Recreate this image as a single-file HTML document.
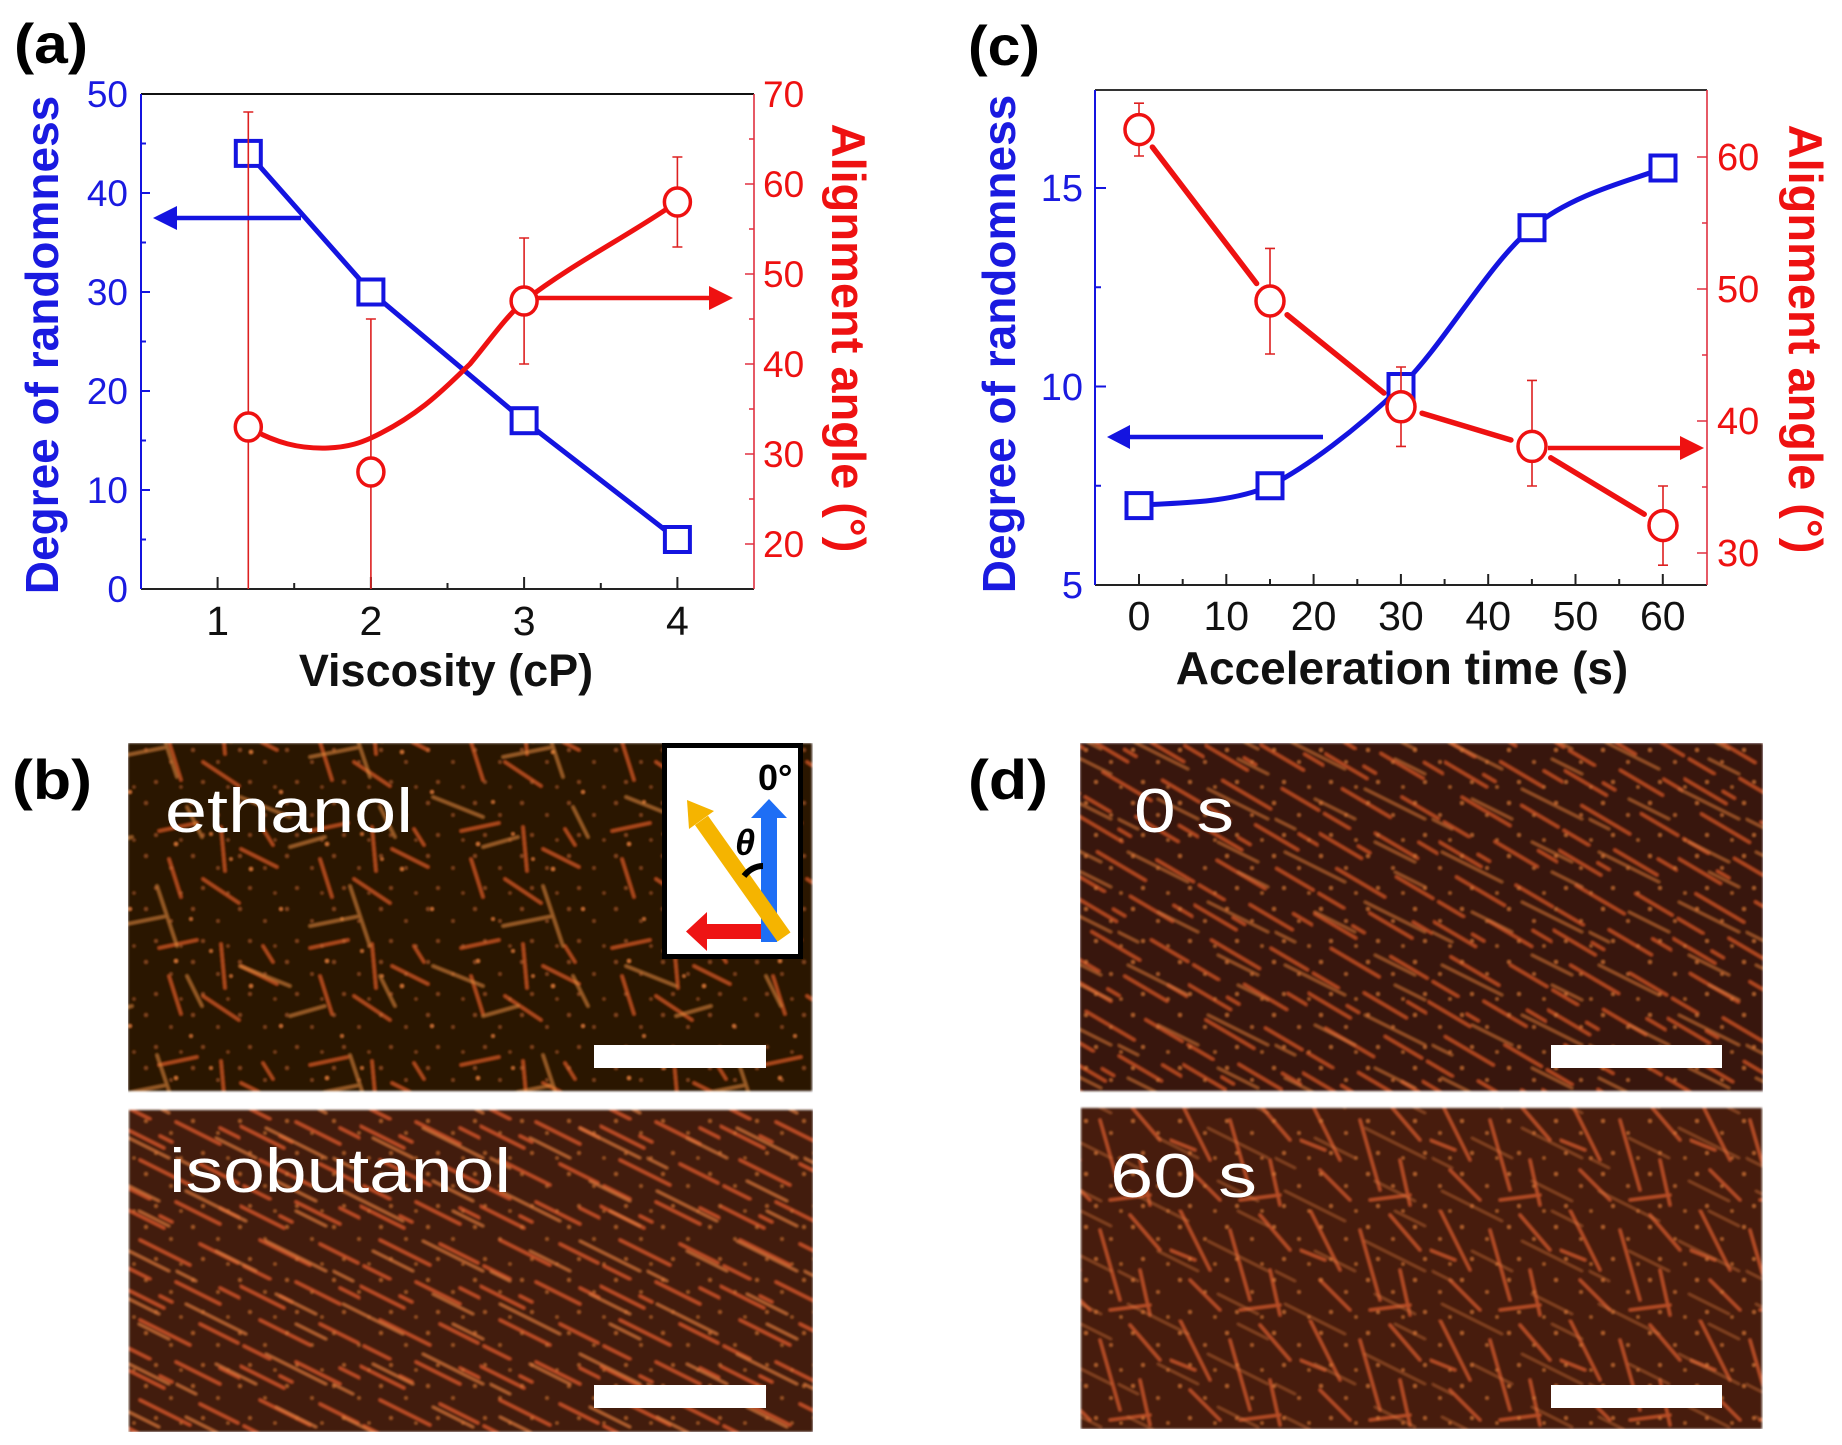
<!DOCTYPE html>
<html><head><meta charset="utf-8"><style>
html,body{margin:0;padding:0;background:#fff;}
svg{display:block;}
text{font-family:"Liberation Sans",Arial,sans-serif;}
</style></head><body>
<svg width="1842" height="1445" viewBox="0 0 1842 1445" xmlns="http://www.w3.org/2000/svg">
<defs>
<filter id="soft" x="0" y="0" width="1" height="1"><feGaussianBlur stdDeviation="1"/></filter>
<pattern id="eth1" width="151" height="117" patternUnits="userSpaceOnUse">
<path d="M8 12L46 4M70 8L74 52M18 40L30 78M90 30L126 48M52 60L88 84M112 10L122 26" stroke="#d45a26" stroke-width="3" stroke-linecap="round" fill="none" opacity=".8"/>
<g fill="#e8803a"><circle cx="25" cy="25" r="1.6"/><circle cx="60" cy="15" r="1.4"/><circle cx="100" cy="50" r="1.6"/><circle cx="40" cy="100" r="1.4"/><circle cx="130" cy="90" r="1.5"/><circle cx="80" cy="40" r="1.3"/></g>
</pattern>
<pattern id="eth2" width="193" height="169" patternUnits="userSpaceOnUse" patternTransform="translate(37 21)">
<path d="M10 100L60 120M120 20L140 80M80 60L130 50M150 110L165 140M60 150L95 140" stroke="#e8903c" stroke-width="3" stroke-linecap="round" fill="none" opacity=".6"/>
</pattern>
<pattern id="iso1" width="120" height="80" patternUnits="userSpaceOnUse">
<path d="M0 6L44 28M56 2L100 24M20 40L70 65M80 44L118 63M4 66L30 79M100 8L120 18M40 16L52 22" stroke="#cc5228" stroke-width="3" stroke-linecap="round" fill="none" opacity=".9"/>
</pattern>
<pattern id="iso1b" width="120" height="80" patternUnits="userSpaceOnUse" patternTransform="translate(53 17) rotate(4)">
<path d="M0 6L44 28M56 2L100 24M20 40L70 65M80 44L118 63M4 66L30 79M100 8L120 18M40 16L52 22" stroke="#cc5228" stroke-width="3" stroke-linecap="round" fill="none" opacity=".85"/>
</pattern>
<pattern id="iso2" width="157" height="113" patternUnits="userSpaceOnUse" patternTransform="translate(19 41)">
<path d="M10 20L70 50M90 70L150 100M40 80L80 100M100 10L140 30M0 100L20 110M120 40L150 55" stroke="#e07a3e" stroke-width="2.5" stroke-linecap="round" fill="none" opacity=".75"/>
</pattern>
<pattern id="s60" width="130" height="110" patternUnits="userSpaceOnUse">
<path d="M10 0L40 60M60 20L80 90M90 5L120 40M20 70L50 100M100 60L110 105M0 40L25 50M70 100L110 95" stroke="#d45a2e" stroke-width="3" stroke-linecap="round" fill="none" opacity=".8"/>
</pattern>
<pattern id="dots" width="47" height="53" patternUnits="userSpaceOnUse">
<g fill="#e07a3a"><circle cx="5" cy="8" r="1.7"/><circle cx="30" cy="20" r="1.5"/><circle cx="15" cy="40" r="1.6"/><circle cx="40" cy="45" r="1.4"/></g>
</pattern>
</defs>

<rect width="1842" height="1445" fill="#fff"/>

<!-- ================= (a) ================= -->
<text x="14" y="63" font-size="56" font-weight="bold" textLength="74" lengthAdjust="spacingAndGlyphs">(a)</text>
<g stroke-width="2" fill="none">
<line x1="141" y1="94" x2="754" y2="94" stroke="#111"/>
<line x1="141" y1="589" x2="754" y2="589" stroke="#222"/>
<line x1="141" y1="94" x2="141" y2="589" stroke="#1414e0"/>
<line x1="754" y1="94" x2="754" y2="589" stroke="#e03040" stroke-width="1.6"/>
</g>
<g stroke="#222" stroke-width="2">
<path d="M217.6 589V577M370.9 589V577M524.1 589V577M677.4 589V577M294.2 589V583M447.5 589V583M600.8 589V583"/>
</g>
<g stroke="#1414e0" stroke-width="2">
<path d="M141 490H150M141 391H150M141 292H150M141 193H150M141 539.5H146M141 440.5H146M141 341.5H146M141 242.5H146M141 143.5H146"/>
</g>
<g stroke="#e03040" stroke-width="1.6">
<path d="M754 184H745M754 274H745M754 364H745M754 454H745M754 544H745M754 499H749M754 409H749M754 319H749M754 229H749M754 139H749"/>
</g>
<g font-size="37" fill="#1a1ae0" text-anchor="end">
<text x="128" y="602">0</text><text x="128" y="503">10</text><text x="128" y="404">20</text><text x="128" y="305">30</text><text x="128" y="206">40</text><text x="128" y="107">50</text>
</g>
<g font-size="37" fill="#ee1111">
<text x="763" y="107">70</text><text x="763" y="197">60</text><text x="763" y="287">50</text><text x="763" y="377">40</text><text x="763" y="467">30</text><text x="763" y="557">20</text>
</g>
<g font-size="41" fill="#111" text-anchor="middle">
<text x="217.6" y="635">1</text><text x="370.9" y="635">2</text><text x="524.1" y="635">3</text><text x="677.4" y="635">4</text>
</g>
<text x="446" y="686" font-size="45" font-weight="bold" text-anchor="middle" fill="#111">Viscosity (cP)</text>
<text transform="translate(58,345) rotate(-90)" font-size="46" font-weight="bold" text-anchor="middle" fill="#1a1ae0">Degree of randomness</text>
<text transform="translate(832,338) rotate(90)" font-size="47" font-weight="bold" text-anchor="middle" fill="#ee1111">Alignment angle (°)</text>

<!-- data a -->
<polyline points="248.3,153.4 370.9,292 524.1,420.7 677.4,539.5" fill="none" stroke="#1414e0" stroke-width="5"/>
<path d="M248,427 C275,443 300,449 328,448 C350,447 362,442 371,438 C420,415 445,388 470,364 C490,340 505,318 524,301 C575,262 630,235 677,202" fill="none" stroke="#ee1111" stroke-width="5"/>
<g fill="#fff" stroke="#1414e0" stroke-width="4">
<rect x="235.8" y="140.9" width="25" height="25"/><rect x="358.4" y="279.5" width="25" height="25"/><rect x="511.6" y="408.2" width="25" height="25"/><rect x="664.9" y="527" width="25" height="25"/>
</g>
<g stroke="#dd2020" stroke-width="1.6">
<path d="M248.3 112V589M243.3 112H253.3M370.9 319V589M365.9 319H375.9M524.1 238V364M519.1 238H529.1M519.1 364H529.1M677.4 157V247M672.4 157H682.4M672.4 247H682.4"/>
</g>
<g fill="#fff" stroke="#ee1111" stroke-width="3.5">
<ellipse cx="248.3" cy="427" rx="13" ry="14"/><ellipse cx="370.9" cy="472" rx="13" ry="14"/><ellipse cx="524.1" cy="301" rx="13" ry="14"/><ellipse cx="677.4" cy="202" rx="13" ry="14"/>
</g>
<line x1="301" y1="218" x2="172" y2="218" stroke="#1414e0" stroke-width="4.5"/>
<polygon points="153,218 177,206 177,230" fill="#1414e0"/>
<line x1="538" y1="298" x2="712" y2="298" stroke="#ee1111" stroke-width="4.5"/>
<polygon points="733,298 709,286 709,310" fill="#ee1111"/>

<!-- ================= (c) ================= -->
<text x="968" y="65" font-size="56" font-weight="bold" textLength="72" lengthAdjust="spacingAndGlyphs">(c)</text>
<g stroke-width="2" fill="none">
<line x1="1095" y1="90" x2="1707" y2="90" stroke="#333"/>
<line x1="1095" y1="585" x2="1707" y2="585" stroke="#222"/>
<line x1="1095" y1="90" x2="1095" y2="585" stroke="#1414e0"/>
<line x1="1707" y1="90" x2="1707" y2="585" stroke="#e03040" stroke-width="1.6"/>
</g>
<g stroke="#222" stroke-width="2">
<path d="M1139 585V574M1226.3 585V574M1313.6 585V574M1400.9 585V574M1488.2 585V574M1575.5 585V574M1662.8 585V574M1182.7 585V579M1270 585V579M1357.3 585V579M1444.6 585V579M1531.9 585V579M1619.2 585V579"/>
</g>
<g stroke="#1414e0" stroke-width="2">
<path d="M1095 386.5H1106M1095 188H1106M1095 485.8H1101M1095 287.3H1101"/>
</g>
<g stroke="#e03040" stroke-width="1.6">
<path d="M1707 553H1697M1707 421H1697M1707 289H1697M1707 157H1697M1707 487H1702M1707 355H1702M1707 223H1702"/>
</g>
<g font-size="38" fill="#1a1ae0" text-anchor="end">
<text x="1083" y="598">5</text><text x="1083" y="400">10</text><text x="1083" y="201">15</text>
</g>
<g font-size="38" fill="#ee1111">
<text x="1717" y="566">30</text><text x="1717" y="434">40</text><text x="1717" y="302">50</text><text x="1717" y="170">60</text>
</g>
<g font-size="41" fill="#111" text-anchor="middle">
<text x="1139" y="630">0</text><text x="1226.3" y="630">10</text><text x="1313.6" y="630">20</text><text x="1400.9" y="630">30</text><text x="1488.2" y="630">40</text><text x="1575.5" y="630">50</text><text x="1662.8" y="630">60</text>
</g>
<text x="1402" y="684" font-size="46" font-weight="bold" text-anchor="middle" fill="#111">Acceleration time (s)</text>
<text transform="translate(1015,344) rotate(-90)" font-size="46" font-weight="bold" text-anchor="middle" fill="#1a1ae0">Degree of randomness</text>
<text transform="translate(1789,339) rotate(90)" font-size="47" font-weight="bold" text-anchor="middle" fill="#ee1111">Alignment angle (°)</text>

<!-- data c -->
<path d="M1139,505.6 C1160.8,502.3 1226.3,505.6 1270,485.75 C1305,468 1357.3,429.5 1401,386.5 C1444.7,343.5 1488.3,264.1 1532,227.7 C1575.7,191.3 1641.2,177.95 1663,168" fill="none" stroke="#1414e0" stroke-width="5"/>
<g stroke="#ee1111" stroke-width="5.5" stroke-linecap="round">
<line x1="1152.4" y1="147.1" x2="1256.6" y2="283.5"/>
<line x1="1287.1" y1="314.8" x2="1383.9" y2="393"/>
<line x1="1422.1" y1="413.2" x2="1510.9" y2="440"/>
<line x1="1550.8" y1="457.8" x2="1644.2" y2="514.2"/>
</g>
<g fill="#fff" stroke="#1414e0" stroke-width="4">
<rect x="1126.5" y="493.1" width="25" height="25"/><rect x="1257.5" y="473.25" width="25" height="25"/><rect x="1388.5" y="374" width="25" height="25"/><rect x="1519.5" y="215.2" width="25" height="25"/><rect x="1650.5" y="155.5" width="25" height="25"/>
</g>
<g stroke="#dd2020" stroke-width="1.6">
<path d="M1139 103.2V156M1134 103.2H1144M1134 156H1144M1270 248.4V354M1265 248.4H1275M1265 354H1275M1401 367V446.4M1396 367H1406M1396 446.4H1406M1532 380.4V486M1527 380.4H1537M1527 486H1537M1663 486V565.2M1658 486H1668M1658 565.2H1668"/>
</g>
<g fill="#fff" stroke="#ee1111" stroke-width="3.5">
<ellipse cx="1139" cy="129.6" rx="14" ry="15"/><ellipse cx="1270" cy="301" rx="14" ry="15"/><ellipse cx="1401" cy="406.8" rx="14" ry="15"/><ellipse cx="1532" cy="446.4" rx="14" ry="15"/><ellipse cx="1663" cy="525.6" rx="14" ry="15"/>
</g>
<line x1="1323" y1="437" x2="1126" y2="437" stroke="#1414e0" stroke-width="4.5"/>
<polygon points="1107,437 1130,425 1130,449" fill="#1414e0"/>
<line x1="1548" y1="448" x2="1682" y2="448" stroke="#ee1111" stroke-width="4.5"/>
<polygon points="1704,448 1680,436 1680,460" fill="#ee1111"/>

<!-- ================= (b) ================= -->
<text x="12" y="799" font-size="56" font-weight="bold" textLength="80" lengthAdjust="spacingAndGlyphs">(b)</text>
<g filter="url(#soft)">
<rect x="128" y="743" width="684" height="348" fill="#2a1205"/>
<rect x="128" y="743" width="684" height="348" fill="url(#eth1)"/>
<rect x="128" y="743" width="684" height="348" fill="url(#eth2)"/>
<rect x="128" y="743" width="684" height="348" fill="url(#dots)" opacity=".55"/>
<rect x="129" y="1110" width="684" height="322" fill="#431b0a"/>
<rect x="129" y="1110" width="684" height="322" fill="url(#iso1)"/>
<rect x="129" y="1110" width="684" height="322" fill="url(#iso2)"/>
<rect x="129" y="1110" width="684" height="322" fill="url(#dots)" opacity=".7"/>
</g>
<text x="165" y="832" font-size="62" fill="#fff" textLength="248" lengthAdjust="spacingAndGlyphs">ethanol</text>
<text x="169" y="1192" font-size="62" fill="#fff" textLength="342" lengthAdjust="spacingAndGlyphs">isobutanol</text>
<rect x="594" y="1045" width="172" height="23" fill="#fff"/>
<rect x="594" y="1385" width="172" height="23" fill="#fff"/>
<!-- inset -->
<rect x="664.5" y="745.5" width="136" height="211" fill="#fff" stroke="#000" stroke-width="5"/>
<text x="758" y="790" font-size="36" font-weight="bold" fill="#000">0°</text>
<rect x="705" y="924" width="57" height="15" fill="#ee1414"/>
<polygon points="686,931.5 707,912 707,951" fill="#ee1414"/>
<rect x="761" y="816" width="16" height="126" fill="#1e6ef5"/>
<polygon points="751,818 769,799 787,818" fill="#1e6ef5"/>
<line x1="784" y1="937" x2="701.5" y2="820.4" stroke="#f5b400" stroke-width="16"/>
<polygon points="687,800 714,811 689,829" fill="#f5b400"/>
<text x="735" y="855" font-size="36" font-weight="bold" font-style="italic" fill="#000">θ</text>
<path d="M744 876 Q752 866 763 866" fill="none" stroke="#000" stroke-width="6"/>

<!-- ================= (d) ================= -->
<text x="968" y="799" font-size="56" font-weight="bold" textLength="80" lengthAdjust="spacingAndGlyphs">(d)</text>
<g filter="url(#soft)">
<rect x="1080" y="743" width="683" height="348" fill="#381507"/>
<rect x="1080" y="743" width="683" height="348" fill="url(#iso1b)"/>
<rect x="1080" y="743" width="683" height="348" fill="url(#iso2)" opacity=".8"/>
<rect x="1080" y="743" width="683" height="348" fill="url(#dots)" opacity=".8"/>
<rect x="1081" y="1108" width="681" height="321" fill="#461c0b"/>
<rect x="1081" y="1108" width="681" height="321" fill="url(#s60)"/>
<rect x="1081" y="1108" width="681" height="321" fill="url(#iso2)" opacity=".55"/>
<rect x="1081" y="1108" width="681" height="321" fill="url(#dots)" opacity=".8"/>
</g>
<text x="1134" y="832" font-size="62" fill="#fff" textLength="100" lengthAdjust="spacingAndGlyphs">0 s</text>
<text x="1110" y="1197" font-size="62" fill="#fff" textLength="147" lengthAdjust="spacingAndGlyphs">60 s</text>
<rect x="1551" y="1045" width="171" height="23" fill="#fff"/>
<rect x="1551" y="1385" width="171" height="23" fill="#fff"/>
</svg>
</body></html>
